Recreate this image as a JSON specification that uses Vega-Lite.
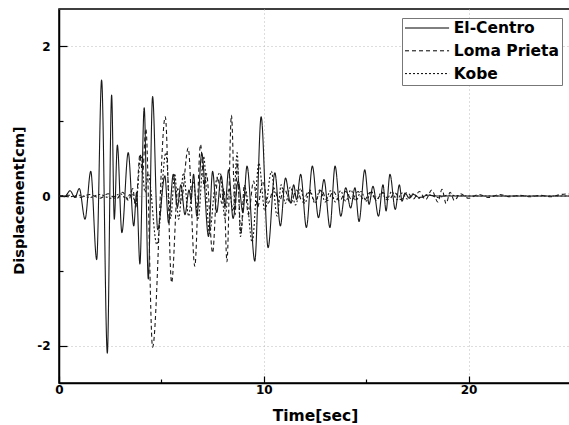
{
"$schema": "https://vega.github.io/schema/vega-lite/v6.json",
"width": 512, "height": 374,
"autosize": {"type": "none"},
"padding": {"left": 59, "top": 9, "right": 0, "bottom": 42},
"background": "white",
"config": {"view": {"stroke": "black", "strokeWidth": 1.5}, "font": "DejaVu Sans"},
"data": {"values": [
{"t":0,"d":0,"s":"El-Centro"},{"t":0.3,"d":0,"s":"El-Centro"},{"t":0.54,"d":0.07,"s":"El-Centro"},{"t":0.78,"d":-0.02,"s":"El-Centro"},{"t":0.99,"d":0.1,"s":"El-Centro"},{"t":1.27,"d":-0.31,"s":"El-Centro"},{"t":1.55,"d":0.33,"s":"El-Centro"},{"t":1.84,"d":-0.85,"s":"El-Centro"},{"t":2.08,"d":1.55,"s":"El-Centro"},{"t":2.36,"d":-2.1,"s":"El-Centro"},{"t":2.57,"d":1.35,"s":"El-Centro"},{"t":2.7,"d":-0.31,"s":"El-Centro"},{"t":2.85,"d":0.68,"s":"El-Centro"},{"t":3.07,"d":-0.49,"s":"El-Centro"},{"t":3.38,"d":0.58,"s":"El-Centro"},{"t":3.65,"d":-0.4,"s":"El-Centro"},{"t":3.79,"d":0.05,"s":"El-Centro"},{"t":3.95,"d":-0.91,"s":"El-Centro"},{"t":4.16,"d":1.18,"s":"El-Centro"},{"t":4.36,"d":-1.11,"s":"El-Centro"},{"t":4.57,"d":1.33,"s":"El-Centro"},{"t":4.82,"d":-0.45,"s":"El-Centro"},{"t":5.17,"d":0.27,"s":"El-Centro"},{"t":5.35,"d":-0.36,"s":"El-Centro"},{"t":5.58,"d":0.29,"s":"El-Centro"},{"t":5.78,"d":-0.15,"s":"El-Centro"},{"t":5.95,"d":0.15,"s":"El-Centro"},{"t":6.15,"d":-0.25,"s":"El-Centro"},{"t":6.35,"d":0.08,"s":"El-Centro"},{"t":6.45,"d":-0.05,"s":"El-Centro"},{"t":6.57,"d":0.29,"s":"El-Centro"},{"t":6.73,"d":-0.27,"s":"El-Centro"},{"t":6.97,"d":0.57,"s":"El-Centro"},{"t":7.3,"d":-0.54,"s":"El-Centro"},{"t":7.5,"d":0.33,"s":"El-Centro"},{"t":7.7,"d":-0.22,"s":"El-Centro"},{"t":7.92,"d":0.27,"s":"El-Centro"},{"t":8.11,"d":-0.14,"s":"El-Centro"},{"t":8.28,"d":0.35,"s":"El-Centro"},{"t":8.5,"d":-0.3,"s":"El-Centro"},{"t":8.75,"d":0.2,"s":"El-Centro"},{"t":8.98,"d":-0.22,"s":"El-Centro"},{"t":9.18,"d":0.4,"s":"El-Centro"},{"t":9.56,"d":-0.87,"s":"El-Centro"},{"t":9.87,"d":1.06,"s":"El-Centro"},{"t":10.21,"d":-0.69,"s":"El-Centro"},{"t":10.54,"d":0.31,"s":"El-Centro"},{"t":10.81,"d":-0.4,"s":"El-Centro"},{"t":11.06,"d":0.24,"s":"El-Centro"},{"t":11.3,"d":-0.09,"s":"El-Centro"},{"t":11.46,"d":0.15,"s":"El-Centro"},{"t":11.6,"d":-0.05,"s":"El-Centro"},{"t":11.8,"d":0.29,"s":"El-Centro"},{"t":12.08,"d":-0.42,"s":"El-Centro"},{"t":12.37,"d":0.4,"s":"El-Centro"},{"t":12.67,"d":-0.29,"s":"El-Centro"},{"t":12.94,"d":0.22,"s":"El-Centro"},{"t":13.23,"d":-0.42,"s":"El-Centro"},{"t":13.48,"d":0.4,"s":"El-Centro"},{"t":13.76,"d":-0.27,"s":"El-Centro"},{"t":14.0,"d":0.11,"s":"El-Centro"},{"t":14.24,"d":-0.16,"s":"El-Centro"},{"t":14.45,"d":0.11,"s":"El-Centro"},{"t":14.65,"d":-0.34,"s":"El-Centro"},{"t":14.93,"d":0.35,"s":"El-Centro"},{"t":15.14,"d":-0.11,"s":"El-Centro"},{"t":15.33,"d":0.13,"s":"El-Centro"},{"t":15.6,"d":-0.27,"s":"El-Centro"},{"t":15.82,"d":0.15,"s":"El-Centro"},{"t":15.97,"d":-0.2,"s":"El-Centro"},{"t":16.16,"d":0.29,"s":"El-Centro"},{"t":16.42,"d":-0.18,"s":"El-Centro"},{"t":16.62,"d":0.15,"s":"El-Centro"},{"t":16.75,"d":-0.07,"s":"El-Centro"},{"t":16.9,"d":0.04,"s":"El-Centro"},{"t":17.1,"d":-0.03,"s":"El-Centro"},{"t":17.3,"d":0.02,"s":"El-Centro"},{"t":17.6,"d":-0.02,"s":"El-Centro"},{"t":18,"d":0.01,"s":"El-Centro"},{"t":18.5,"d":0,"s":"El-Centro"},{"t":25,"d":0,"s":"El-Centro"},
{"t":0,"d":0,"s":"Loma Prieta"},{"t":0.5,"d":0.01,"s":"Loma Prieta"},{"t":1.0,"d":-0.02,"s":"Loma Prieta"},{"t":1.5,"d":0.02,"s":"Loma Prieta"},{"t":2.0,"d":-0.03,"s":"Loma Prieta"},{"t":2.4,"d":0.03,"s":"Loma Prieta"},{"t":2.8,"d":-0.04,"s":"Loma Prieta"},{"t":3.1,"d":0.05,"s":"Loma Prieta"},{"t":3.4,"d":-0.06,"s":"Loma Prieta"},{"t":3.6,"d":0.1,"s":"Loma Prieta"},{"t":3.75,"d":-0.15,"s":"Loma Prieta"},{"t":3.95,"d":0.55,"s":"Loma Prieta"},{"t":4.08,"d":0.3,"s":"Loma Prieta"},{"t":4.24,"d":0.9,"s":"Loma Prieta"},{"t":4.57,"d":-2.02,"s":"Loma Prieta"},{"t":5.19,"d":1.06,"s":"Loma Prieta"},{"t":5.5,"d":-1.16,"s":"Loma Prieta"},{"t":5.8,"d":0.1,"s":"Loma Prieta"},{"t":5.95,"d":-0.1,"s":"Loma Prieta"},{"t":6.31,"d":0.64,"s":"Loma Prieta"},{"t":6.63,"d":-0.94,"s":"Loma Prieta"},{"t":6.91,"d":0.69,"s":"Loma Prieta"},{"t":7.1,"d":0.1,"s":"Loma Prieta"},{"t":7.2,"d":0.3,"s":"Loma Prieta"},{"t":7.5,"d":-0.76,"s":"Loma Prieta"},{"t":7.75,"d":0.25,"s":"Loma Prieta"},{"t":7.95,"d":-0.1,"s":"Loma Prieta"},{"t":8.05,"d":0.1,"s":"Loma Prieta"},{"t":8.2,"d":-0.88,"s":"Loma Prieta"},{"t":8.42,"d":1.08,"s":"Loma Prieta"},{"t":8.6,"d":-0.25,"s":"Loma Prieta"},{"t":8.7,"d":0.45,"s":"Loma Prieta"},{"t":8.88,"d":-0.5,"s":"Loma Prieta"},{"t":9.05,"d":0.15,"s":"Loma Prieta"},{"t":9.25,"d":-0.25,"s":"Loma Prieta"},{"t":9.5,"d":0.2,"s":"Loma Prieta"},{"t":9.7,"d":-0.15,"s":"Loma Prieta"},{"t":9.95,"d":0.2,"s":"Loma Prieta"},{"t":10.2,"d":-0.1,"s":"Loma Prieta"},{"t":10.5,"d":0.1,"s":"Loma Prieta"},{"t":10.75,"d":-0.08,"s":"Loma Prieta"},{"t":11.0,"d":0.1,"s":"Loma Prieta"},{"t":11.3,"d":-0.1,"s":"Loma Prieta"},{"t":11.6,"d":0.08,"s":"Loma Prieta"},{"t":11.9,"d":-0.08,"s":"Loma Prieta"},{"t":12.2,"d":0.07,"s":"Loma Prieta"},{"t":12.5,"d":-0.07,"s":"Loma Prieta"},{"t":12.8,"d":0.08,"s":"Loma Prieta"},{"t":13.1,"d":-0.06,"s":"Loma Prieta"},{"t":13.4,"d":0.06,"s":"Loma Prieta"},{"t":13.7,"d":-0.07,"s":"Loma Prieta"},{"t":14.0,"d":0.06,"s":"Loma Prieta"},{"t":14.3,"d":-0.05,"s":"Loma Prieta"},{"t":14.6,"d":0.06,"s":"Loma Prieta"},{"t":14.9,"d":-0.06,"s":"Loma Prieta"},{"t":15.2,"d":0.05,"s":"Loma Prieta"},{"t":15.5,"d":-0.05,"s":"Loma Prieta"},{"t":15.8,"d":0.05,"s":"Loma Prieta"},{"t":16.1,"d":-0.05,"s":"Loma Prieta"},{"t":16.4,"d":0.04,"s":"Loma Prieta"},{"t":16.7,"d":-0.05,"s":"Loma Prieta"},{"t":17.0,"d":0.05,"s":"Loma Prieta"},{"t":17.3,"d":-0.04,"s":"Loma Prieta"},{"t":17.6,"d":0.06,"s":"Loma Prieta"},{"t":17.9,"d":-0.05,"s":"Loma Prieta"},{"t":18.2,"d":0.08,"s":"Loma Prieta"},{"t":18.5,"d":-0.08,"s":"Loma Prieta"},{"t":18.7,"d":0.09,"s":"Loma Prieta"},{"t":18.9,"d":-0.1,"s":"Loma Prieta"},{"t":19.1,"d":0.05,"s":"Loma Prieta"},{"t":19.3,"d":-0.06,"s":"Loma Prieta"},{"t":19.6,"d":0.03,"s":"Loma Prieta"},{"t":20,"d":-0.03,"s":"Loma Prieta"},{"t":20.5,"d":0.02,"s":"Loma Prieta"},{"t":21,"d":-0.02,"s":"Loma Prieta"},{"t":21.5,"d":0.02,"s":"Loma Prieta"},{"t":22,"d":-0.01,"s":"Loma Prieta"},{"t":22.5,"d":0.01,"s":"Loma Prieta"},{"t":23,"d":-0.01,"s":"Loma Prieta"},{"t":23.5,"d":0.01,"s":"Loma Prieta"},{"t":24,"d":-0.01,"s":"Loma Prieta"},{"t":24.5,"d":0.02,"s":"Loma Prieta"},{"t":25,"d":0.03,"s":"Loma Prieta"},
{"t":0,"d":0,"s":"Kobe"},{"t":0.5,"d":-0.01,"s":"Kobe"},{"t":1.0,"d":0.01,"s":"Kobe"},{"t":1.5,"d":-0.02,"s":"Kobe"},{"t":2.0,"d":0.02,"s":"Kobe"},{"t":2.5,"d":-0.03,"s":"Kobe"},{"t":3.0,"d":0.03,"s":"Kobe"},{"t":3.3,"d":-0.04,"s":"Kobe"},{"t":3.55,"d":0.06,"s":"Kobe"},{"t":3.75,"d":-0.12,"s":"Kobe"},{"t":4.0,"d":0.55,"s":"Kobe"},{"t":4.2,"d":0.05,"s":"Kobe"},{"t":4.35,"d":0.3,"s":"Kobe"},{"t":4.78,"d":-0.65,"s":"Kobe"},{"t":5.22,"d":0.58,"s":"Kobe"},{"t":5.45,"d":-0.3,"s":"Kobe"},{"t":5.65,"d":0.3,"s":"Kobe"},{"t":5.84,"d":-0.31,"s":"Kobe"},{"t":6.08,"d":0.31,"s":"Kobe"},{"t":6.33,"d":-0.27,"s":"Kobe"},{"t":6.55,"d":0.2,"s":"Kobe"},{"t":6.8,"d":-0.3,"s":"Kobe"},{"t":7.06,"d":0.53,"s":"Kobe"},{"t":7.35,"d":-0.5,"s":"Kobe"},{"t":7.6,"d":0.1,"s":"Kobe"},{"t":7.87,"d":0.31,"s":"Kobe"},{"t":8.1,"d":-0.3,"s":"Kobe"},{"t":8.3,"d":0.1,"s":"Kobe"},{"t":8.5,"d":-0.2,"s":"Kobe"},{"t":8.7,"d":0.58,"s":"Kobe"},{"t":8.86,"d":-0.54,"s":"Kobe"},{"t":9.1,"d":0.1,"s":"Kobe"},{"t":9.43,"d":-0.62,"s":"Kobe"},{"t":9.76,"d":0.44,"s":"Kobe"},{"t":10.05,"d":-0.2,"s":"Kobe"},{"t":10.37,"d":0.33,"s":"Kobe"},{"t":10.65,"d":-0.27,"s":"Kobe"},{"t":10.85,"d":0.15,"s":"Kobe"},{"t":11.05,"d":-0.1,"s":"Kobe"},{"t":11.3,"d":0.12,"s":"Kobe"},{"t":11.55,"d":-0.12,"s":"Kobe"},{"t":11.8,"d":0.1,"s":"Kobe"},{"t":12.0,"d":-0.1,"s":"Kobe"},{"t":12.25,"d":0.08,"s":"Kobe"},{"t":12.5,"d":-0.1,"s":"Kobe"},{"t":12.75,"d":0.09,"s":"Kobe"},{"t":13.0,"d":-0.08,"s":"Kobe"},{"t":13.25,"d":0.07,"s":"Kobe"},{"t":13.5,"d":-0.08,"s":"Kobe"},{"t":13.75,"d":0.07,"s":"Kobe"},{"t":14.0,"d":-0.07,"s":"Kobe"},{"t":14.25,"d":0.08,"s":"Kobe"},{"t":14.5,"d":-0.06,"s":"Kobe"},{"t":14.75,"d":0.06,"s":"Kobe"},{"t":15.0,"d":-0.07,"s":"Kobe"},{"t":15.25,"d":0.06,"s":"Kobe"},{"t":15.5,"d":-0.06,"s":"Kobe"},{"t":15.75,"d":0.05,"s":"Kobe"},{"t":16.0,"d":-0.05,"s":"Kobe"},{"t":16.25,"d":0.06,"s":"Kobe"},{"t":16.5,"d":-0.05,"s":"Kobe"},{"t":16.75,"d":0.04,"s":"Kobe"},{"t":17.0,"d":-0.04,"s":"Kobe"},{"t":17.3,"d":0.03,"s":"Kobe"},{"t":17.6,"d":-0.03,"s":"Kobe"},{"t":18.0,"d":0.02,"s":"Kobe"},{"t":18.5,"d":-0.02,"s":"Kobe"},{"t":19,"d":0.01,"s":"Kobe"},{"t":20,"d":0,"s":"Kobe"},{"t":25,"d":0,"s":"Kobe"}
]},
"mark": {"type": "line", "interpolate": "monotone", "strokeWidth": 1.1, "color": "#1a1a1a", "clip": true},
"encoding": {
"x": {"field": "t", "type": "quantitative", "scale": {"domain": [0, 25], "nice": false},
 "axis": {"title": "Time[sec]", "values": [0, 5, 10, 15, 20, 25],
  "labelExpr": "datum.value % 10 === 0 ? '' + datum.value : ''",
  "tickSize": {"condition": {"test": "datum.value % 10 === 0", "value": -7}, "value": -4},
  "tickColor": "black", "tickWidth": 1.2, "domainColor": "black", "domainWidth": 1.5,
  "grid": true, "gridDash": [1, 3], "gridColor": "#bbb",
  "gridOpacity": {"condition": {"test": "datum.value % 10 === 0", "value": 1}, "value": 0},
  "labelFont": "DejaVu Sans", "labelFontSize": 12, "labelFontWeight": "bold", "labelColor": "black",
  "labelBaseline": "alphabetic", "labelPadding": 17, "labelFlush": false,
  "titleFont": "DejaVu Sans", "titleFontSize": 15.5, "titleFontWeight": "bold", "titleColor": "black",
  "titleX": 256, "titleY": 37, "titleBaseline": "alphabetic"}},
"y": {"field": "d", "type": "quantitative", "scale": {"domain": [-2.5, 2.5], "nice": false},
 "axis": {"title": "Displacement[cm]", "values": [-2, -1, 0, 1, 2],
  "labelExpr": "datum.value % 2 === 0 ? '' + datum.value : ''",
  "tickSize": {"condition": {"test": "datum.value % 2 === 0", "value": -8}, "value": -4},
  "tickColor": "black", "tickWidth": 1.2, "domainColor": "black", "domainWidth": 1.5,
  "grid": true, "gridDash": [1, 3], "gridColor": "#bbb",
  "gridOpacity": {"condition": {"test": "datum.value % 2 === 0", "value": 1}, "value": 0},
  "labelFont": "DejaVu Sans", "labelFontSize": 12, "labelFontWeight": "bold", "labelColor": "black",
  "labelPadding": 17, "labelFlush": false,
  "titleFont": "DejaVu Sans", "titleFontSize": 14.5, "titleFontWeight": "bold", "titleColor": "black",
  "titleX": -35.7, "titleY": 191, "titleBaseline": "alphabetic", "titleAngle": -90, "titleAlign": "center"}},
"strokeDash": {"field": "s", "type": "nominal",
 "scale": {"domain": ["El-Centro", "Loma Prieta", "Kobe"], "range": [[1, 0], [4, 3], [2, 2]]},
 "legend": {"title": null, "orient": "none", "legendX": 343, "legendY": 9,
  "strokeColor": "#777", "fillColor": "white", "padding": 2.25,
  "symbolType": "M-1,0H5.3", "symbolSize": 196, "symbolStrokeColor": "black", "symbolStrokeWidth": 1, "symbolFillColor": "transparent",
  "labelFont": "DejaVu Sans", "labelFontSize": 15.5, "labelFontWeight": "bold", "labelColor": "black",
  "labelOffset": 34, "rowPadding": 5.8, "labelLimit": 300}}
}
}
